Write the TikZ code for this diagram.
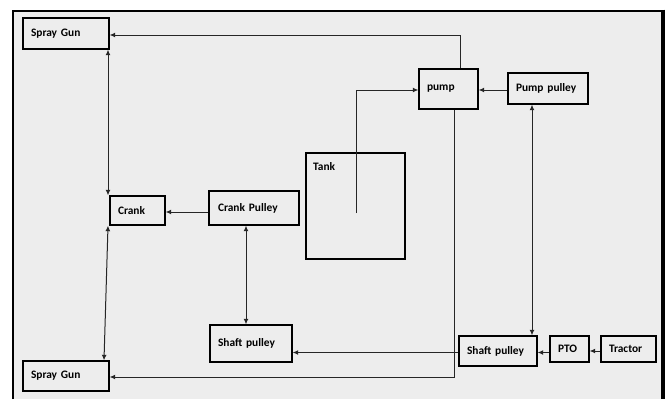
\documentclass[tikz,border=0pt]{standalone}
\usepackage{fontspec}
\setmainfont{Carlito}
\usetikzlibrary{arrows.meta}
\definecolor{bg}{HTML}{EDEDED}
\definecolor{ln}{HTML}{262626}
\tikzset{
  blk/.style={draw=black, line width=1.4pt, fill=bg, inner xsep=8pt, inner ysep=0pt, align=left,
     font=\bfseries\fontsize{11.4}{13}\selectfont, text=black},
  con/.style={draw=ln, line width=1pt},
  tip/.style={-{Latex[length=5.5pt,width=5pt]}},
  dtip/.style={{Latex[length=5.5pt,width=5pt]}-{Latex[length=5.5pt,width=5pt]}},
}
\begin{document}
\begin{tikzpicture}[x=1pt,y=-1pt]
\useasboundingbox (0,0) rectangle (669,399);
\fill[white] (0,0) rectangle (669,399);
\fill[bg] (13,11) rectangle (661,399);
\draw[line width=1.5pt] (13,399) -- (13,11) -- (661,11);
\draw[line width=4pt] (663,9.5) -- (663,399);
% boxes
\node[blk, text width=70pt, minimum height=31pt] (sg1) at (66,33.5) {Spray Gun};
\node[blk, text width=43pt, minimum height=40pt] (pump) at (448.5,89) {pump};
\node[blk, text width=64pt, minimum height=31pt] (pp) at (548,88.5) {Pump pulley};
\node[draw=black, line width=1.4pt, minimum width=99pt, minimum height=106pt] (tank) at (355.5,206) {};
\node[font=\bfseries\fontsize{11.4}{13}\selectfont, anchor=north west, inner sep=0pt] (tanklbl) at (313,162) {Tank};
\node[blk, text width=72pt, inner xsep=9pt, minimum height=34pt] (cp) at (254,208) {Crank Pulley};
\node[blk, text width=39pt, minimum height=29pt] (crank) at (137.5,210.5) {Crank};
\node[blk, text width=66pt, minimum height=37pt] (spl) at (251,343.5) {Shaft pulley};
\node[blk, text width=62pt, minimum height=30pt] (spr) at (498,351) {Shaft pulley};
\node[blk, text width=23pt, minimum height=26pt] (pto) at (569.5,349) {PTO};
\node[blk, text width=39pt, minimum height=26pt] (tractor) at (628.5,349) {Tractor};
\node[blk, text width=70pt, minimum height=30pt] (sg2) at (66,376) {Spray Gun};
% connectors
\coordinate (tankend) at (356,213);
\draw[con,tip] (pump.north -| 460,0) |- (sg1.east |- 0,35);
\draw[con,tip] (pp.west |- 0,90) -- (pump.east |- 0,90);
\draw[con,tip] (tankend) |- (pump.west |- 0,90);
\draw[con,tip] (pump.south -| 454,0) |- (sg2.east |- 0,377);
\draw[con,dtip] (pp.south -| 532,0) -- (spr.north -| 532,0);
\draw[con,tip] (spr.west |- 0,352.5) -- (spl.east |- 0,352.5);
\draw[con,tip] (pto.west |- 0,352.5) -- (spr.east |- 0,352.5);
\draw[con,tip] (tractor.west |- 0,351) -- (pto.east |- 0,351);
\draw[con,tip] (cp.west |- 0,212) -- (crank.east |- 0,212);
\draw[con,dtip] (cp.south -| 246,0) -- (spl.north -| 246,0);
\draw[con,dtip] (sg1.south -| 108,0) -- (crank.north -| 108,0);
\draw[con,dtip] (crank.south -| 108,0) -- (sg2.north -| 104,0);
\end{tikzpicture}
\end{document}
